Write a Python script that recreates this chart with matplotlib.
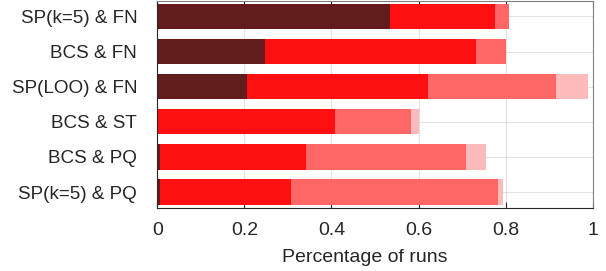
import matplotlib
matplotlib.use("Agg")
import matplotlib.pyplot as plt
import numpy as np

categories = ["SP(k=5) & FN", "BCS & FN", "SP(LOO) & FN", "BCS & ST", "BCS & PQ", "SP(k=5) & PQ"]
seg1 = [0.534, 0.247, 0.207, 0.000, 0.007, 0.007]
seg2 = [0.241, 0.486, 0.414, 0.407, 0.334, 0.301]
seg3 = [0.033, 0.069, 0.294, 0.175, 0.367, 0.474]
seg4 = [0.000, 0.000, 0.074, 0.019, 0.046, 0.013]
xticks = [0, 0.2, 0.4, 0.6, 0.8, 1]
xtick_labels = ["0", "0.2", "0.4", "0.6", "0.8", "1"]

colors = ["#631c1c", "#ff0f0f", "#ff6666", "#ffbbbb"]

plt.rcParams['font.family'] = ['Liberation Sans', 'DejaVu Sans']
fig = plt.figure(figsize=(6.06, 2.71), dpi=100)
ax = fig.add_axes([157.3/606, 1 - 208/271, (592.7-157.3)/606, (208-0.5)/271])

n = len(categories)
y = np.arange(n, 0, -1)
left = np.zeros(n)
for seg, c in zip([seg1, seg2, seg3, seg4], colors):
    seg = np.array(seg)
    ax.barh(y, seg, left=left, height=0.72, color=c, edgecolor='none', zorder=2)
    left += seg

fs = 14
ax.set_xlim(0, 1)
ax.set_ylim(0.545, n + 0.455)
ax.set_yticks(y)
ax.set_yticklabels(categories)
ax.set_xticks(xticks)
ax.set_xticklabels(xtick_labels)
ax.set_xlabel("Percentage of runs", fontsize=fs, color='#262626')
ax.grid(True, color='#262626', alpha=0.13, linewidth=0.8, zorder=0)
ax.set_axisbelow(True)
ax.tick_params(axis='both', direction='in', length=4, width=0.8, colors='#262626',
               labelsize=fs, top=True, right=False)
ax.tick_params(axis='y', length=0, pad=14.5, labelsize=13.6)
ax.tick_params(axis='x', pad=10)
ax.xaxis.set_label_coords(0.476, -0.2)
ax.xaxis.label.set_verticalalignment('top')
for s in ax.spines.values():
    s.set_color('#262626')
    s.set_linewidth(0.8)
ax.spines['right'].set_color('#808080')
ax.spines['top'].set_color('#808080')

fig.savefig("out.png", dpi=100)
